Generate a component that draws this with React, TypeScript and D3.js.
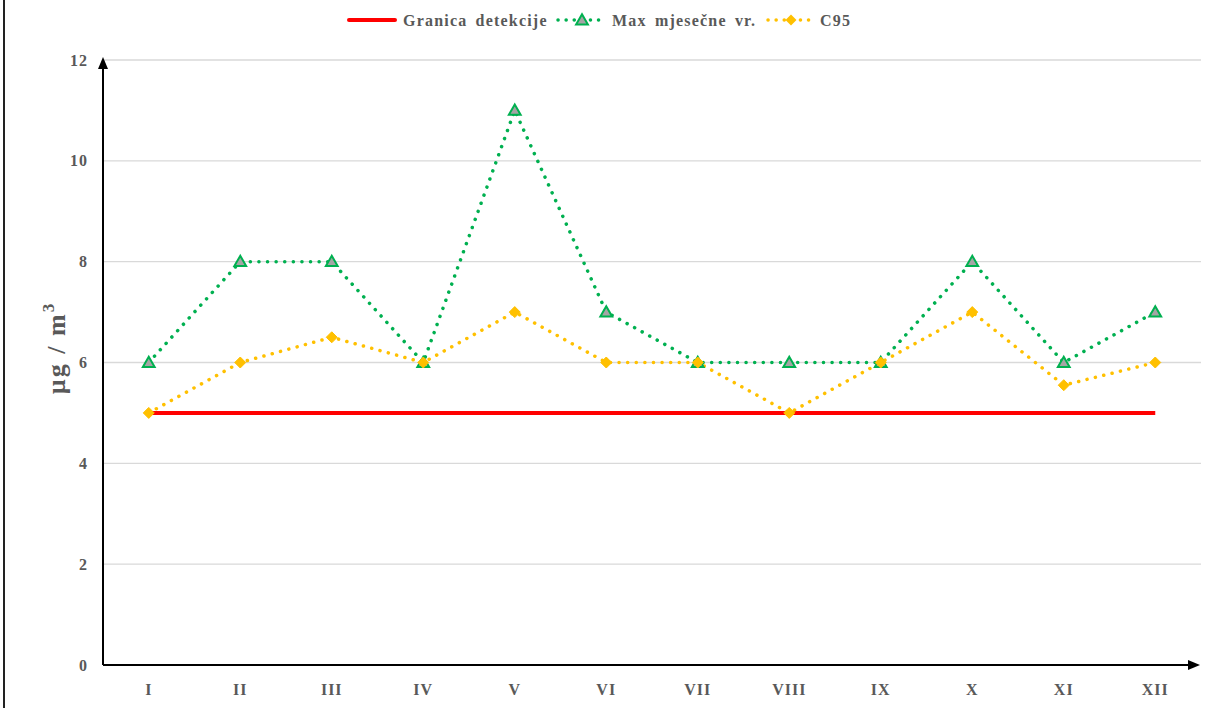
import React from "react";
import * as d3 from "d3";

const categories = ["I", "II", "III", "IV", "V", "VI", "VII", "VIII", "IX", "X", "XI", "XII"];
const detectionLimit = [5, 5, 5, 5, 5, 5, 5, 5, 5, 5, 5, 5];
const maxMonthly = [6, 8, 8, 6, 11, 7, 6, 6, 6, 8, 6, 7];
const c95 = [5, 6, 6.5, 6, 7, 6, 6, 5, 6, 7, 5.55, 6];
const yTicks = [0, 2, 4, 6, 8, 10, 12];

const W = 1214;
const H = 708;
const left = 103;
const right = 1201;
const top = 60;
const bottom = 665;

const GRAY = "#595959";
const GREEN = "#00B050";
const YELLOW = "#FFC000";
const RED = "#FF0000";
const FONT = "'Liberation Serif', 'Times New Roman', serif";

export default function App() {
  const x = d3.scaleBand<string>().domain(categories).range([left, right]).padding(0);
  const cx = (c: string) => (x(c) as number) + x.bandwidth() / 2;
  const y = d3.scaleLinear().domain([0, 12]).range([bottom, top]);

  const line = d3
    .line<number>()
    .x((_, i) => cx(categories[i]))
    .y((d) => y(d));

  const tri = d3.symbol().type(d3.symbolTriangle).size(60)() as string;
  const diamond = (s: number) => `M0,${-s}L${s},0L0,${s}L${-s},0Z`;

  return (
    <svg width={W} height={H} style={{ position: "absolute", left: 0, top: 0, background: "#fff" }}>
      <rect x={0} y={0} width={W} height={H} fill="#fff" />
      <line x1={4} x2={4} y1={0} y2={H} stroke="#222" strokeWidth={2} />

      {/* gridlines */}
      {yTicks.filter((t) => t > 0).map((t) => (
        <line key={t} x1={left} x2={right} y1={y(t)} y2={y(t)} stroke="#D9D9D9" strokeWidth={1.3} />
      ))}

      {/* y tick labels */}
      {yTicks.map((t) => (
        <text key={t} x={88} y={y(t)} dy="0.35em" textAnchor="end" fontFamily={FONT} fontWeight="bold" fontSize={16} letterSpacing={1} fill={GRAY}>
          {t}
        </text>
      ))}

      {/* x tick labels */}
      {categories.map((c) => (
        <text key={c} x={cx(c)} y={695} textAnchor="middle" fontFamily={FONT} fontWeight="bold" fontSize={16} letterSpacing={1} fill={GRAY}>
          {c}
        </text>
      ))}

      {/* y title */}
      <text
        transform={`translate(65, 348) rotate(-90)`}
        textAnchor="middle"
        fontFamily={FONT}
        fontWeight="bold"
        fontSize={26}
        letterSpacing={2}
        fill={GRAY}
      >
        µg / m<tspan dy={-11} fontSize={17}>3</tspan>
      </text>

      {/* series */}
      <path d={line(detectionLimit) as string} fill="none" stroke={RED} strokeWidth={4} />
      <path d={line(maxMonthly) as string} fill="none" stroke={GREEN} strokeWidth={3.5} strokeDasharray="0.1 8.5" strokeLinecap="round" />
      <path d={line(c95) as string} fill="none" stroke={YELLOW} strokeWidth={3.5} strokeDasharray="0.1 8.5" strokeLinecap="round" />

      {maxMonthly.map((v, i) => (
        <path key={i} d={tri} transform={`translate(${cx(categories[i])},${y(v) + 1})`} fill="#A5A5A5" stroke={GREEN} strokeWidth={2} />
      ))}
      {c95.map((v, i) => (
        <path key={i} d={diamond(5.5)} transform={`translate(${cx(categories[i])},${y(v)})`} fill={YELLOW} stroke={YELLOW} strokeWidth={1} />
      ))}

      {/* axes */}
      <line x1={left} x2={left} y1={bottom} y2={top + 8} stroke="#000" strokeWidth={2} />
      <path d={`M${left},${top - 3}L${left - 5},${top + 9}L${left + 5},${top + 9}Z`} fill="#000" />
      <line x1={left} x2={right - 10} y1={bottom} y2={bottom} stroke="#000" strokeWidth={2} />
      <path d={`M${right - 1},${bottom}L${right - 13},${bottom - 5}L${right - 13},${bottom + 5}Z`} fill="#000" />

      {/* legend */}
      <g fontFamily={FONT} fontWeight="bold" fontSize={16} letterSpacing={1.2} wordSpacing={3} fill={GRAY}>
        <line x1={349} x2={395} y1={20} y2={20} stroke={RED} strokeWidth={4} strokeLinecap="round" />
        <text x={403} y={20} dy="0.35em">Granica detekcije</text>

        <line x1={558} x2={606} y1={20} y2={20} stroke={GREEN} strokeWidth={3.5} strokeDasharray="0.1 8" strokeLinecap="round" />
        <path d={tri} transform="translate(582,21)" fill="#A5A5A5" stroke={GREEN} strokeWidth={2} />
        <text x={612} y={20} dy="0.35em">Max mjesečne vr.</text>

        <line x1={768} x2={814} y1={20} y2={20} stroke={YELLOW} strokeWidth={3.5} strokeDasharray="0.1 8" strokeLinecap="round" />
        <path d={diamond(5.5)} transform="translate(791,20)" fill={YELLOW} />
        <text x={820} y={20} dy="0.35em">C95</text>
      </g>
    </svg>
  );
}
